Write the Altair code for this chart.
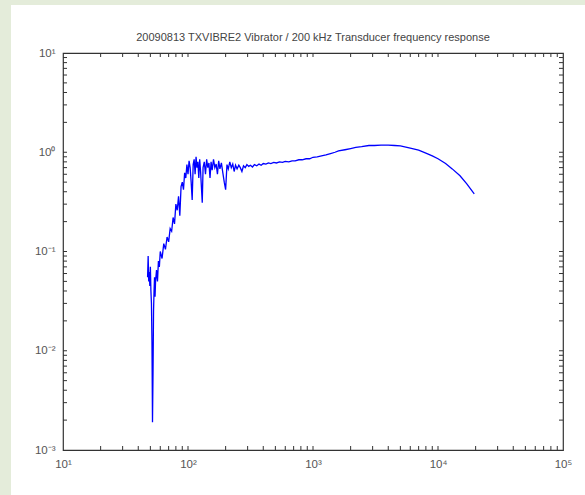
import altair as alt
import pandas as pd

# Frequency (Hz) and response
freq = [47.5, 48.0, 48.5, 49.0, 49.5, 50.0, 50.5, 51.0, 51.5, 52.0, 52.5, 53.0, 53.5,
        54.0, 54.5, 55.0, 56.0, 57.0, 58.0, 59.0, 60.0, 62.0, 64.0, 66.0, 68.0, 70.0,
        72.0, 74.0, 76.0, 78.0, 80.0, 82.0, 84.0, 86.0, 88.0, 90.0, 92.0, 94.0, 96.0,
        98.0, 100.0, 102.0, 104.0, 106.0, 108.0, 110.0, 112.0, 114.0, 116.0, 118.0,
        120.0, 122.0, 124.0, 126.0, 128.0, 130.0, 132.0, 135.0, 138.0, 141.0, 144.0,
        147.0, 150.0, 153.0, 156.0, 160.0, 164.0, 168.0, 172.0, 176.0, 180.0, 185.0,
        190.0, 195.0, 200.0, 205.0, 210.0, 216.0, 222.0, 228.0, 234.0, 240.0, 247.0,
        255.0, 262.0, 270.0, 278.0, 287.0, 296.0, 306.0, 316.0, 328.0, 340.0, 355.0,
        370.0, 385.0, 400.0, 420.0, 440.0, 460.0, 485.0, 510.0, 540.0, 570.0, 600.0,
        640.0, 680.0, 720.0, 770.0, 820.0, 880.0, 940.0, 1000.0, 1080.0, 1170.0,
        1270.0, 1380.0, 1500.0, 1600.0, 1800.0, 2000.0, 2200.0, 2450.0, 2800.0,
        3100.0, 3500.0, 4000.0, 4500.0, 5000.0, 6000.0, 7000.0, 8000.0, 9000.0,
        10000.0, 11500.0, 13000.0, 15000.0, 17000.0, 19500.0]
resp = [0.055, 0.09, 0.05, 0.062, 0.045, 0.07, 0.04, 0.03, 0.012, 0.0019, 0.006, 0.025, 0.04,
        0.055, 0.035, 0.05, 0.065, 0.05, 0.08, 0.07, 0.1, 0.085, 0.12, 0.105, 0.14, 0.125,
        0.17, 0.16, 0.22, 0.19, 0.3, 0.26, 0.36, 0.23, 0.45, 0.5, 0.42, 0.62, 0.55,
        0.75, 0.6, 0.82, 0.7, 0.5, 0.33, 0.75, 0.85, 0.6, 0.9, 0.7,
        0.8, 0.55, 0.85, 0.65, 0.45, 0.31, 0.7, 0.8, 0.6, 0.85, 0.7,
        0.78, 0.55, 0.8, 0.66, 0.85, 0.7, 0.76, 0.6, 0.82, 0.68, 0.78,
        0.62, 0.5, 0.42, 0.75, 0.68, 0.8, 0.7, 0.76, 0.64, 0.74, 0.68,
        0.74, 0.7, 0.64, 0.73, 0.7, 0.75, 0.72, 0.74, 0.71, 0.75, 0.73,
        0.76, 0.74, 0.77, 0.76, 0.78, 0.77, 0.79, 0.78, 0.8, 0.79, 0.81,
        0.8, 0.82, 0.82, 0.84, 0.84, 0.86, 0.86, 0.89, 0.9, 0.92,
        0.94, 0.97, 1.0, 1.03, 1.06, 1.09, 1.12, 1.14, 1.17,
        1.17, 1.18, 1.18, 1.17, 1.16, 1.1, 1.05, 0.98, 0.92,
        0.86, 0.77, 0.68, 0.58, 0.48, 0.38]

title_text = "20090813 TXVIBRE2 Vibrator / 200 kHz Transducer frequency response"
x_major = [10, 100, 1000, 10000, 100000]
y_major = [0.001, 0.01, 0.1, 1, 10]
x_minor = [m * 10 ** d for d in range(1, 5) for m in range(2, 10)]
y_minor = [m * 10.0 ** d for d in range(-3, 1) for m in range(2, 10)]

W, H = 500, 397
data = pd.DataFrame({"freq": freq, "resp": resp})
one = pd.DataFrame({"k": [0]})
xt = pd.DataFrame({"t": x_minor + x_major[1:-1]})
yt = pd.DataFrame({"t": y_minor + y_major[1:-1]})

xs = alt.Scale(type="log", domain=[10, 100000], nice=False)
ys = alt.Scale(type="log", domain=[0.001, 10], nice=False)

sup = "{'-3':'⁻³','-2':'⁻²','-1':'⁻¹','0':'⁰','1':'¹','2':'²','3':'³','4':'⁴','5':'⁵'}"
lab = "'10' + " + sup + "[''+round(log(datum.value)/LN10)]"

axis_common = dict(ticks=False, domain=False, grid=False, labelExpr=lab,
                    labelFont="Liberation Sans", labelFontSize=11.5, labelColor="#555",
                    title=None, labelFlush=False)

green = "#e4ecda"
# green strips at the left and top edges of the page
strip_left = alt.Chart(one).mark_rect(color=green).encode(
    x=alt.value(-63), x2=alt.value(-52), y=alt.value(-53), y2=alt.value(H + 45))
strip_top = alt.Chart(one).mark_rect(color=green).encode(
    x=alt.value(-63), x2=alt.value(W + 22), y=alt.value(-53), y2=alt.value(-48))

title = alt.Chart(one).mark_text(
    font="Liberation Sans", fontSize=11, color="#444", align="center", baseline="alphabetic"
).encode(x=alt.value(W / 2), y=alt.value(-12), text=alt.value(title_text))

line = alt.Chart(data).mark_line(color="#0000ff", strokeWidth=1.3, clip=True).encode(
    x=alt.X("freq:Q", scale=xs, axis=alt.Axis(values=x_major, labelPadding=8, **axis_common)),
    y=alt.Y("resp:Q", scale=ys, axis=alt.Axis(values=y_major, labelPadding=8, **axis_common)),
    order="freq:Q",
)

tick_color = "#333"
xb = alt.Chart(xt).mark_rule(color=tick_color, strokeWidth=1).encode(
    x=alt.X("t:Q", scale=xs), y=alt.value(H), y2=alt.value(H - 4))
xtop = alt.Chart(xt).mark_rule(color=tick_color, strokeWidth=1).encode(
    x=alt.X("t:Q", scale=xs), y=alt.value(0), y2=alt.value(4))
yl = alt.Chart(yt).mark_rule(color=tick_color, strokeWidth=1).encode(
    y=alt.Y("t:Q", scale=ys), x=alt.value(0), x2=alt.value(4))
yr = alt.Chart(yt).mark_rule(color=tick_color, strokeWidth=1).encode(
    y=alt.Y("t:Q", scale=ys), x=alt.value(W), x2=alt.value(W - 4))

chart = alt.layer(strip_left, strip_top, title, line, xb, xtop, yl, yr).properties(
    width=W, height=H,
    padding={"left": 63, "top": 53, "right": 22, "bottom": 45},
    autosize=alt.AutoSizeParams(type="none"),
).configure(background="white").configure_view(stroke="#333", strokeWidth=1.2)

chart.save("out.html", embed_options={"renderer": "svg", "actions": False})
